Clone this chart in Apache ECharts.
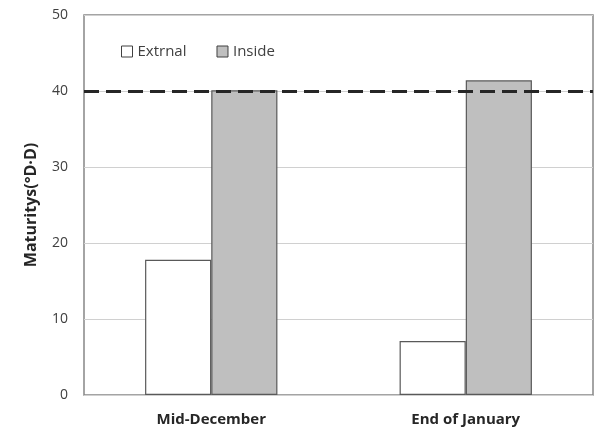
<!DOCTYPE html>
<html><head><meta charset="utf-8">
<script src="https://cdn.jsdelivr.net/npm/echarts@6/dist/echarts.min.js"></script>
<style>html,body{margin:0;padding:0;background:#fff}#c{width:599px;height:430px}</style>
</head><body><div id="c"></div>
<script>
var categories = ['Mid-December', 'End of January'];
var externalValues = [17.8, 7.1];
var insideValues = [40.1, 41.4];
var thresholdValue = 40;
var yTicks = [0, 10, 20, 30, 40, 50];

var chart = echarts.init(document.getElementById('c'));
chart.setOption({
  animation: false,
  backgroundColor: '#fff',
  textStyle: { fontFamily: 'Open Sans' },
  grid: { left: 84, right: 6, top: 15, bottom: 35, show: true, borderColor: '#868686', borderWidth: 1.5, backgroundColor: 'transparent' },
  legend: {
    left: 116, top: 39, itemWidth: 11, itemHeight: 11, itemGap: 30,
    textStyle: { fontSize: 15, color: '#404040', fontFamily: 'Open Sans' },
    data: [
      { name: 'Extrnal', icon: 'rect', itemStyle: { color: '#fff', borderColor: '#404040', borderWidth: 1 } },
      { name: 'Inside', icon: 'rect', itemStyle: { color: '#bfbfbf', borderColor: '#404040', borderWidth: 1 } }
    ]
  },
  xAxis: {
    type: 'category', data: categories,
    axisLine: { show: false }, axisTick: { show: false },
    axisLabel: { fontSize: 15, fontWeight: 'bold', color: '#262626', margin: 17 }
  },
  yAxis: {
    type: 'value', min: 0, max: 50, interval: 10,
    name: 'Maturitys(°D·D)', nameLocation: 'middle', nameGap: 45,
    nameTextStyle: { fontSize: 16, fontWeight: 'bold', color: '#262626' },
    axisLine: { show: false }, axisTick: { show: false },
    axisLabel: { fontSize: 14, color: '#404040', margin: 16, formatter: function (v) { return yTicks.indexOf(v) >= 0 ? String(v) : ''; } },
    splitLine: { lineStyle: { color: '#d0d0d0', width: 1 } }
  },
  series: [
    {
      name: 'Extrnal', type: 'bar', data: externalValues, barGap: '0%', barCategoryGap: '48%',
      itemStyle: { color: '#fff', borderColor: '#595959', borderWidth: 1.2 }
    },
    {
      name: 'Inside', type: 'bar', data: insideValues, barGap: '0%', barCategoryGap: '48%',
      itemStyle: { color: '#bfbfbf', borderColor: '#595959', borderWidth: 1.2 },
      markLine: {
        silent: true, symbol: 'none', label: { show: false },
        lineStyle: { color: '#262626', type: [15, 7], width: 3 },
        data: [{ yAxis: thresholdValue }]
      }
    }
  ]
});
</script></body></html>
